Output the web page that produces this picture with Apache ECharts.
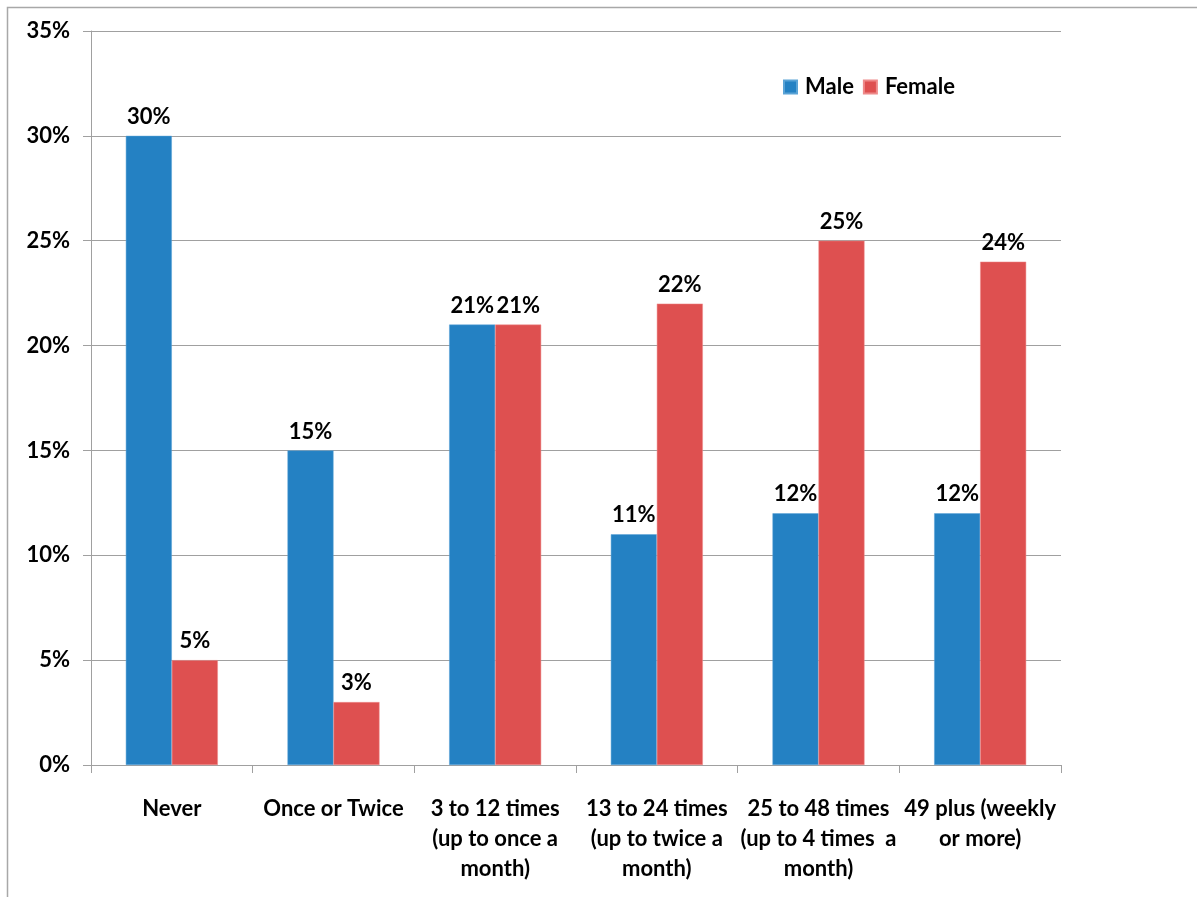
<!DOCTYPE html>
<html>
<head>
<meta charset="utf-8">
<script src="https://cdn.jsdelivr.net/npm/echarts@6/dist/echarts.min.js"></script>
<style>
  html, body { margin: 0; padding: 0; background: #ffffff; }
  #chart { width: 1197px; height: 897px; }
</style>
</head>
<body>
<div id="chart"></div>
<script>
// Frequency categories along the x axis
const categories = [
  'Never',
  'Once or Twice',
  '3 to 12 times\n(up to once a\nmonth)',
  '13 to 24 times\n(up to twice a\nmonth)',
  '25 to 48 times\n(up to 4 times  a\nmonth)',
  '49 plus (weekly\nor more)'
];

// Share of respondents (%)
const maleValues = [30, 15, 21, 11, 12, 12];
const femaleValues = [5, 3, 21, 22, 25, 24];

// Percentage axis ticks
const yMin = 0;
const yMax = 35;
const yStep = 5;

const FONT = 'Lato, "Open Sans", sans-serif';
const FONT_SIZE = 22;
const gridColor = '#a0a0a0';

const chart = echarts.init(document.getElementById('chart'), null, { renderer: 'canvas' });

const labelStyle = {
  show: true,
  position: 'top',
  distance: 8,
  formatter: '{c}%',
  color: '#000',
  fontFamily: FONT,
  fontWeight: 'bold',
  fontSize: FONT_SIZE
};

chart.setOption({
  animation: false,
  backgroundColor: '#ffffff',
  graphic: [{
    type: 'rect',
    shape: { x: 7.5, y: 7.5, width: 1400, height: 1100 },
    style: { fill: 'none', stroke: '#a8a8a8', lineWidth: 1.5 },
    silent: true,
    z: -1
  }],
  grid: { left: 91, right: 136, top: 31, bottom: 132, containLabel: false },
  legend: {
    left: 783,
    top: 76,
    padding: 0,
    icon: 'rect',
    itemWidth: 13,
    itemHeight: 13,
    itemGap: 9,
    textStyle: {
      color: '#000',
      fontFamily: FONT,
      fontWeight: 'bold',
      fontSize: FONT_SIZE,
      padding: [0, 0, 0, 3]
    },
    data: ['Male', 'Female']
  },
  xAxis: {
    type: 'category',
    data: categories,
    boundaryGap: true,
    axisLine: { show: true, lineStyle: { color: gridColor, width: 1 } },
    axisTick: { show: true, length: 8, alignWithLabel: false, lineStyle: { color: gridColor } },
    axisLabel: {
      interval: 0,
      margin: 29,
      color: '#000',
      fontFamily: FONT,
      fontWeight: 'bold',
      fontSize: FONT_SIZE,
      lineHeight: 30,
      align: 'center'
    },
    splitLine: { show: false }
  },
  yAxis: {
    type: 'value',
    min: yMin,
    max: yMax,
    interval: yStep,
    axisLine: { show: true, lineStyle: { color: gridColor, width: 1 } },
    axisTick: { show: true, length: 8, inside: false, lineStyle: { color: gridColor } },
    axisLabel: {
      margin: 21,
      formatter: '{value}%',
      color: '#000',
      fontFamily: FONT,
      fontWeight: 'bold',
      fontSize: FONT_SIZE
    },
    splitLine: { show: true, lineStyle: { color: gridColor, width: 1 } }
  },
  series: [
    {
      name: 'Male',
      type: 'bar',
      data: maleValues,
      barWidth: 46,
      barGap: '0%',
      itemStyle: { color: '#2481c3', borderColor: '#5aa3d6', borderWidth: 0.5 },
      label: labelStyle
    },
    {
      name: 'Female',
      type: 'bar',
      data: femaleValues,
      barWidth: 46,
      barGap: '0%',
      itemStyle: { color: '#de5050', borderColor: '#ee8a8a', borderWidth: 0.5 },
      label: labelStyle
    }
  ]
});
</script>
</body>
</html>
